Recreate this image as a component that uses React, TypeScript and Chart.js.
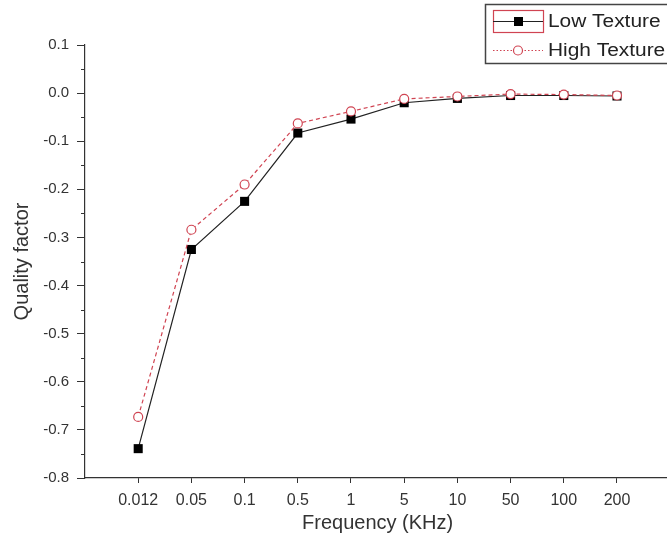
import React, { useEffect, useRef } from "react";
import { Chart, registerables } from "chart.js";
Chart.register(...registerables);

const categories = ["0.012", "0.05", "0.1", "0.5", "1", "5", "10", "50", "100", "200"];
const lowTexture = [-0.739, -0.325, -0.225, -0.083, -0.054, -0.02, -0.011, -0.005, -0.005, -0.006];
const highTexture = [-0.673, -0.284, -0.19, -0.063, -0.038, -0.012, -0.007, -0.002, -0.003, -0.005];
const seriesLabels = ["Low Texture", "High Texture"];
const xTitle = "Frequency (KHz)";
const yTitle = "Quality factor";
const yMin = -0.8;
const yMax = 0.1;
const yStep = 0.1;

const FONT = "'Liberation Sans', Arial, sans-serif";
const RED = "#d04452";
const DARK = "#222222";

const overlay = {
  id: "overlay",
  afterDraw(chart: any) {
    const ctx = chart.ctx;
    const ys = chart.scales.y;
    const xs = chart.scales.x;
    const area = chart.chartArea;
    ctx.save();
    // minor y ticks
    ctx.strokeStyle = "#333";
    ctx.lineWidth = 1;
    for (let v = yMin + yStep / 2; v < yMax; v += yStep) {
      const py = Math.round(ys.getPixelForValue(v)) + 0.5;
      ctx.beginPath();
      ctx.moveTo(area.left - 4, py);
      ctx.lineTo(area.left, py);
      ctx.stroke();
    }
    // titles
    ctx.fillStyle = "#333";
    ctx.font = `20px ${FONT}`;
    ctx.textAlign = "center";
    ctx.textBaseline = "middle";
    ctx.fillText(xTitle, (xs.getPixelForValue(5) + xs.getPixelForValue(6)) / 2, 523);
    ctx.save();
    ctx.translate(22, (area.top + area.bottom) / 2);
    ctx.rotate(-Math.PI / 2);
    ctx.fillText(yTitle, 0, 0);
    ctx.restore();

    // legend
    const lx = 485, ly = 4, lw = 200, lh = 59;
    ctx.fillStyle = "#fff";
    ctx.fillRect(lx, ly, lw, lh);
    ctx.strokeStyle = "#444";
    ctx.lineWidth = 1.5;
    ctx.strokeRect(lx + 0.5, ly + 0.5, lw, lh);
    const r1 = 21, r2 = 50;
    ctx.strokeStyle = RED;
    ctx.lineWidth = 1.2;
    ctx.strokeRect(493.5, 10.5, 50, 22);
    ctx.strokeStyle = DARK;
    ctx.lineWidth = 1.2;
    ctx.beginPath();
    ctx.moveTo(493, r1 + 0.5);
    ctx.lineTo(543, r1 + 0.5);
    ctx.stroke();
    ctx.fillStyle = "#000";
    ctx.fillRect(514, r1 - 4, 9, 9);
    ctx.strokeStyle = RED;
    ctx.setLineDash([1.5, 2]);
    ctx.beginPath();
    ctx.moveTo(493, r2 + 0.5);
    ctx.lineTo(543, r2 + 0.5);
    ctx.stroke();
    ctx.setLineDash([]);
    ctx.fillStyle = "#fff";
    ctx.beginPath();
    ctx.arc(518, r2 + 0.5, 4.5, 0, Math.PI * 2);
    ctx.fill();
    ctx.stroke();
    ctx.fillStyle = "#222";
    ctx.font = `18px ${FONT}`;
    ctx.textAlign = "left";
    ctx.save();
    ctx.translate(548, 0);
    ctx.scale(1.16, 1);
    ctx.fillText(seriesLabels[0], 0, r1 + 1);
    ctx.fillText(seriesLabels[1], 0, r2 + 1);
    ctx.restore();
    ctx.restore();
  },
};

export default function App() {
  const ref = useRef<HTMLCanvasElement>(null);
  useEffect(() => {
    const chart = new Chart(ref.current!, {
      type: "line",
      data: {
        datasets: [
          {
            label: seriesLabels[0],
            data: lowTexture.map((v, i) => ({ x: i + 1, y: v })),
            borderColor: DARK,
            borderWidth: 1.2,
            pointStyle: "rect",
            pointRadius: 6.4,
            pointBackgroundColor: "#000",
            pointBorderColor: "#000",
            pointBorderWidth: 0,
            order: 1,
          },
          {
            label: seriesLabels[1],
            data: highTexture.map((v, i) => ({ x: i + 1, y: v })),
            borderColor: RED,
            borderWidth: 1.2,
            borderDash: [4, 3],
            pointStyle: "circle",
            pointRadius: 4.5,
            pointBackgroundColor: "#fff",
            pointBorderColor: RED,
            pointBorderWidth: 1.2,
            order: 0,
          },
        ],
      },
      options: {
        animation: false,
        responsive: false,
        maintainAspectRatio: false,
        layout: { autoPadding: false, padding: { top: 45, left: 0, right: 0, bottom: 0 } },
        plugins: { legend: { display: false }, tooltip: { enabled: false } },
        scales: {
          x: {
            type: "linear",
            min: 0,
            max: 10.94,
            afterBuildTicks: (scale: any) => {
              scale.ticks = categories.map((_, i) => ({ value: i + 1 }));
            },
            afterFit: (scale: any) => {
              scale.height = 59;
              scale.paddingLeft = 0;
              scale.paddingRight = 0;
            },
            ticks: {
              autoSkip: false,
              maxRotation: 0,
              padding: 8,
              color: "#333",
              font: { family: FONT, size: 16 },
              callback: (v: any) => categories[Math.round(v) - 1] ?? "",
            },
            grid: { drawOnChartArea: false, tickLength: 5, color: "#333", tickColor: "#333" },
            border: { color: "#333", width: 1.2 },
          },
          y: {
            type: "linear",
            min: yMin,
            max: yMax,
            afterFit: (scale: any) => {
              scale.width = 85;
              scale.paddingTop = 0;
              scale.paddingBottom = 0;
            },
            ticks: {
              stepSize: yStep,
              padding: 8,
              color: "#333",
              font: { family: FONT, size: 15 },
              callback: (v: any) => Number(v).toFixed(1),
            },
            grid: { drawOnChartArea: false, tickLength: 8, color: "#333", tickColor: "#333" },
            border: { color: "#333", width: 1.2 },
          },
        },
      },
      plugins: [overlay],
    });
    return () => chart.destroy();
  }, []);
  return (
    <div style={{ position: "absolute", left: 0, top: 0, width: 667, height: 537 }}>
      <canvas ref={ref} width={667} height={537} style={{ width: 667, height: 537, display: "block" }} />
    </div>
  );
}
